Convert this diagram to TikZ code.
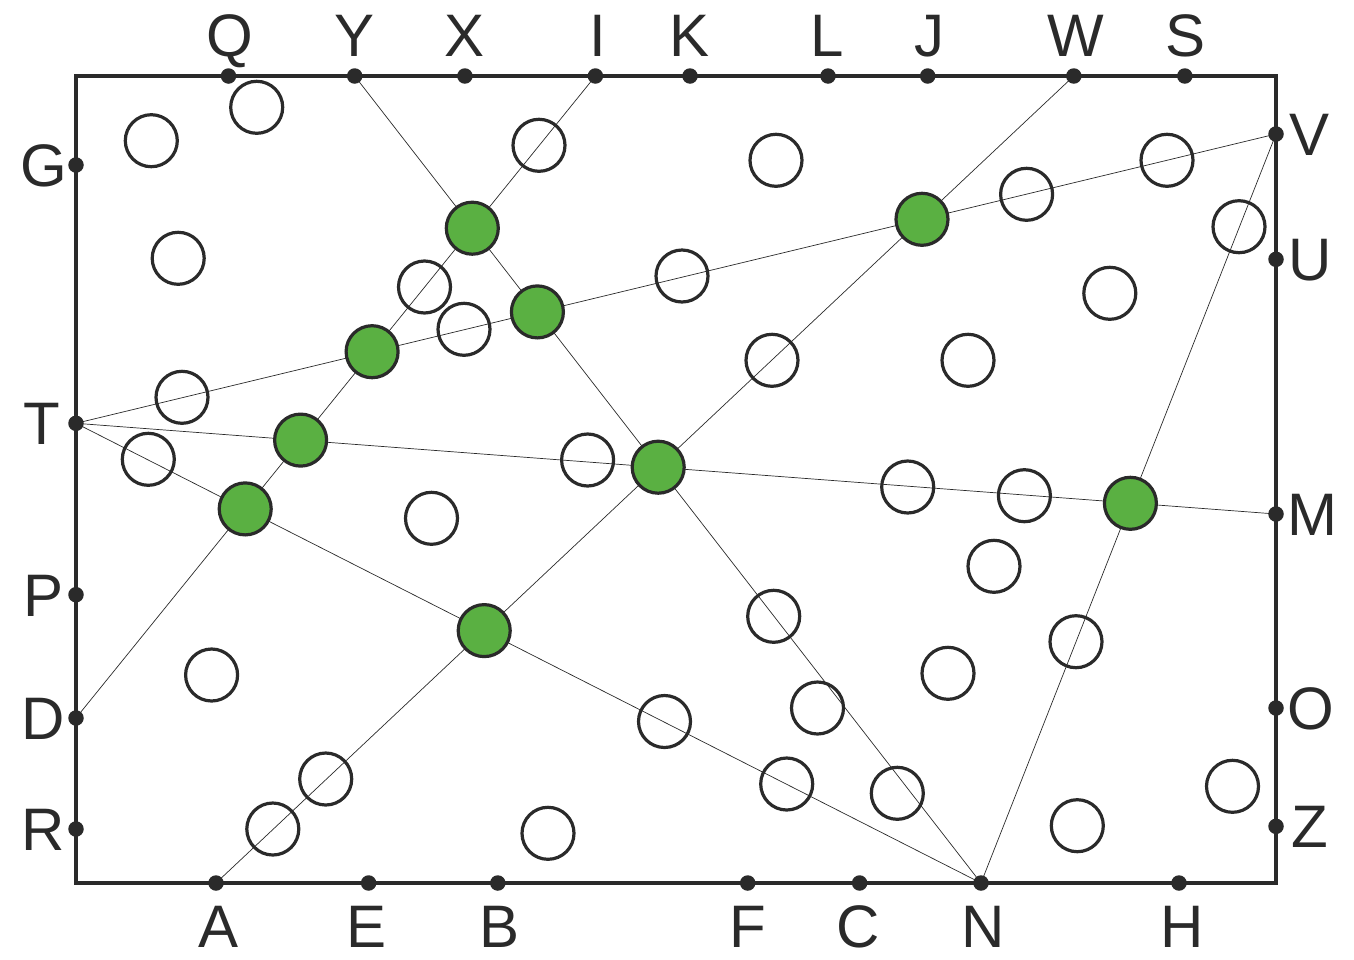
\documentclass[tikz,border=0pt]{standalone}
\usepackage{fontspec}
\setmainfont{Liberation Sans}
\definecolor{ink}{RGB}{42,42,42}
\definecolor{leaf}{RGB}{90,176,66}
\begin{document}
\begin{tikzpicture}[x=1pt,y=-1pt,
  frame/.style={draw=ink,line width=4pt},
  guide/.style={draw=ink,line width=0.7pt},
  pin/.style={circle,fill=ink,inner sep=0pt,minimum size=15.5pt},
  ring/.style={circle,draw=ink,line width=3.2pt,inner sep=0pt,minimum size=52pt},
  hit/.style={ring,fill=leaf},
  lab/.style={font=\fontsize{60}{60}\selectfont,text=ink,inner sep=0pt,anchor=base}]
\useasboundingbox (0,0) rectangle (1354,959);

% boundary points
\coordinate (Q) at (228.5,76); \coordinate (Y) at (354.7,76); \coordinate (X) at (464.9,76);
\coordinate (I) at (595.4,76); \coordinate (K) at (690,76); \coordinate (L) at (828,76);
\coordinate (J) at (927.7,76); \coordinate (W) at (1073.8,76); \coordinate (S) at (1184.8,76);
\coordinate (G) at (76,165); \coordinate (T) at (76,423.3); \coordinate (P) at (76,594.7);
\coordinate (D) at (76,718); \coordinate (R) at (76,829);
\coordinate (V) at (1276,134); \coordinate (U) at (1276,259.3); \coordinate (M) at (1276,514);
\coordinate (O) at (1276,708); \coordinate (Z) at (1276,826.3);
\coordinate (A) at (216,883); \coordinate (E) at (368.6,883); \coordinate (B) at (497.8,883);
\coordinate (F) at (747.7,883); \coordinate (C) at (859.6,883); \coordinate (N) at (981,883);
\coordinate (H) at (1179,883);

% guide lines
\draw[guide] (Y) -- (N);
\draw[guide] (I) -- (D);
\draw[guide] (T) -- (V);
\draw[guide] (T) -- (M);
\draw[guide] (T) -- (N);
\draw[guide] (A) -- (W);
\draw[guide] (N) -- (V);

% frame
\draw[frame] (76,76) rectangle (1276,883);

% dots
\foreach \p in {Q,Y,X,I,K,L,J,W,S,G,T,P,D,R,V,U,M,O,Z,A,E,B,F,C,N,H}
  \node[pin] (d\p) at (\p) {};

% labels
\node[lab] (lQ) at (229.5,56) {Q};
\node[lab] (lY) at (354.5,56) {Y};
\node[lab] (lX) at (465,56) {X};
\node[lab] (lI) at (598,56) {I};
\node[lab] (lK) at (690,56) {K};
\node[lab] (lL) at (827,56) {L};
\node[lab] (lJ) at (929,56) {J};
\node[lab] (lW) at (1075.5,56) {W};
\node[lab] (lS) at (1185.5,56) {S};
\node[lab] (lG) at (44,186.5) {G};
\node[lab] (lT) at (42,444.8) {T};
\node[lab] (lP) at (44,616.2) {P};
\node[lab] (lD) at (43.5,739.5) {D};
\node[lab] (lR) at (43.5,850.5) {R};
\node[lab] (lV) at (1309,155.5) {V};
\node[lab] (lU) at (1310.5,280.8) {U};
\node[lab] (lM) at (1312.5,535.5) {M};
\node[lab] (lO) at (1310.5,729.5) {O};
\node[lab] (lZ) at (1310,847.8) {Z};
\node[lab] (lA) at (218.5,947) {A};
\node[lab] (lE) at (367,947) {E};
\node[lab] (lB) at (500,947) {B};
\node[lab] (lF) at (748,947) {F};
\node[lab] (lC) at (858.5,947) {C};
\node[lab] (lN) at (983,947) {N};
\node[lab] (lH) at (1182.5,947) {H};

% white rings
\foreach \x/\y [count=\i] in {
  256.7/107.3, 151.3/140.7, 539/145.3, 776/160.3, 1167/160.3, 1026.6/194.3, 1239/226.7,
  178.2/258.3, 424.5/287, 464/329.3, 682/276, 1109.8/293.3, 772/360.3, 968/360.3,
  182/397.3, 148.3/459.3, 587.6/460, 907.7/487, 1024.4/495.7, 431.5/518.3, 994/566.3,
  773.7/616.3, 1076/641.7, 211.6/675, 948/673.3, 817.5/708, 664.5/721.5, 325.7/779,
  786.7/784, 897.3/793.3, 1232.5/786.3, 272.8/829, 548/833.3, 1077.3/825.7}
  \node[ring] (w\i) at (\x,\y) {};

% green rings at the crossings
\node[hit] (g1) at (472.3,228.2) {};
\node[hit] (g2) at (537.4,311.9) {};
\node[hit] (g3) at (372.1,351.7) {};
\node[hit] (g4) at (300.6,440.1) {};
\node[hit] (g5) at (245.2,508.9) {};
\node[hit] (g6) at (658.2,467.2) {};
\node[hit] (g7) at (484.2,630.6) {};
\node[hit] (g8) at (922,219.3) {};
\node[hit] (g9) at (1130.4,503.3) {};
\end{tikzpicture}
\end{document}
